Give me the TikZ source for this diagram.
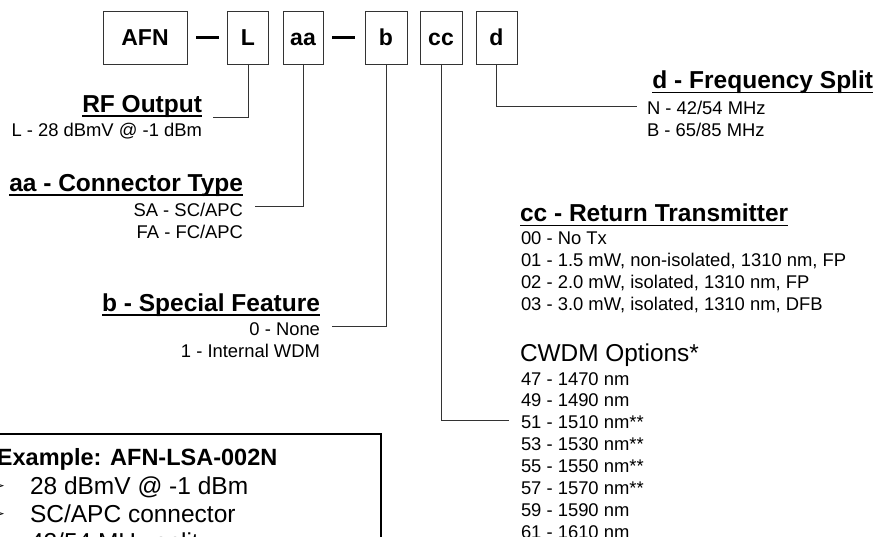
\documentclass[tikz,border=0pt]{standalone}
\usepackage{fontspec}
\setmainfont{Liberation Sans}
\newfontfamily\symfont{DejaVu Sans}
\begin{document}
\begin{tikzpicture}[x=1pt,y=-1pt,
  every node/.style={inner sep=0pt, outer sep=0pt},
  codebox/.style={draw=black!80, line width=0.9pt, minimum height=53pt, text height=16.5pt, text depth=0pt, font=\fontsize{23}{27}\selectfont\bfseries},
  dashtxt/.style={},
  conn/.style={draw=black!80, line width=0.9pt},
  head/.style={font=\fontsize{24.5}{28}\selectfont\bfseries},
  big/.style={font=\fontsize{24.4}{28}\selectfont},
  body/.style={font=\fontsize{18.4}{22}\selectfont},
  exbody/.style={font=\fontsize{24.5}{28}\selectfont},
  exhead/.style={font=\fontsize{23.5}{28}\selectfont\bfseries},
  bullet/.style={font=\symfont\fontsize{17}{20}\selectfont},
  uline/.style={line width=1.8pt},
]
\useasboundingbox (0,0) rectangle (878,537);
\clip (0,0) rectangle (878,537);

% code boxes
\node[codebox, minimum width=84pt] (afn) at (145,37.5) {AFN};
\node[dashtxt] (dash1) at (207.5,37.3) {\rule{23pt}{3pt}};
\node[codebox, minimum width=41pt] (lbox) at (248,37.5) {L};
\node[codebox, minimum width=40pt] (aabox) at (303,37.5) {aa};
\node[dashtxt] (dash2) at (343.5,37.3) {\rule{23pt}{3pt}};
\node[codebox, minimum width=42pt] (bbox) at (386,37.5) {b};
\node[codebox, minimum width=42pt] (ccbox) at (441,37.5) {cc};
\node[codebox, minimum width=41pt] (dbox) at (496.5,37.5) {d};

% RF Output
\node[head, anchor=base east] (rfh) at (202,112.5) {RF Output};
\draw[uline] ([yshift=-3.6pt]rfh.base west) -- ([yshift=-3.6pt]rfh.base east);
\node[body, anchor=base east] (rf1) at (202,136.5) {L - 28 dBmV @ -1 dBm};
\coordinate (rfend) at (213,117);
\draw[conn] (lbox.south) |- (rfend);

% aa - Connector Type
\node[head, anchor=base east] (aah) at (243,191.7) {aa - Connector Type};
\draw[uline] ([yshift=-3.6pt]aah.base west) -- ([yshift=-3.6pt]aah.base east);
\node[body, anchor=base east] (aa1) at (243,216.7) {SA - SC/APC};
\node[body, anchor=base east] (aa2) at (243,238.5) {FA - FC/APC};
\coordinate (aaend) at (255,206.7);
\draw[conn] (aabox.south) |- (aaend);

% b - Special Feature
\node[head, anchor=base east] (bh) at (320,311.7) {b - Special Feature};
\draw[uline] ([yshift=-3.6pt]bh.base west) -- ([yshift=-3.6pt]bh.base east);
\node[body, anchor=base east] (b1) at (320,335.5) {0 - None};
\node[body, anchor=base east] (b2) at (320,357.5) {1 - Internal WDM};
\coordinate (bend) at (332,326.7);
\draw[conn] (bbox.south) |- (bend);

% d - Frequency Split
\node[head, anchor=base east] (dh) at (873,89) {d - Frequency Split};
\draw[uline] ([yshift=-3.6pt]dh.base west) -- ([yshift=-3.6pt]dh.base east);
\node[body, anchor=base west] (d1) at (647,114.5) {N - 42/54 MHz};
\node[body, anchor=base west] (d2) at (647,136.7) {B - 65/85 MHz};
\coordinate (dend) at (637,106);
\draw[conn] (dbox.south) |- (dend);

% cc - Return Transmitter
\node[head, anchor=base west] (cch) at (520,222) {cc - Return Transmitter};
\draw[uline] ([yshift=-3.6pt]cch.base west) -- ([yshift=-3.6pt]cch.base east);
\node[body, anchor=base west] (cc1) at (521,245) {00 - No Tx};
\node[body, anchor=base west] (cc2) at (521,266.7) {01 - 1.5 mW, non-isolated, 1310 nm, FP};
\node[body, anchor=base west] (cc3) at (521,288.4) {02 - 2.0 mW, isolated, 1310 nm, FP};
\node[body, anchor=base west] (cc4) at (521,310.1) {03 - 3.0 mW, isolated, 1310 nm, DFB};

\node[big, anchor=base west] (cwdm) at (520,361.7) {CWDM Options*};
\node[body, anchor=base west] (w1) at (521,385) {47 - 1470 nm};
\node[body, anchor=base west] (w2) at (521,406.9) {49 - 1490 nm};
\node[body, anchor=base west] (w3) at (521,428.8) {51 - 1510 nm**};
\node[body, anchor=base west] (w4) at (521,450.7) {53 - 1530 nm**};
\node[body, anchor=base west] (w5) at (521,472.6) {55 - 1550 nm**};
\node[body, anchor=base west] (w6) at (521,494.5) {57 - 1570 nm**};
\node[body, anchor=base west] (w7) at (521,516.4) {59 - 1590 nm};
\node[body, anchor=base west] (w8) at (521,538.3) {61 - 1610 nm};
\coordinate (ccend) at (509,420);
\draw[conn] (ccbox.south) |- (ccend);

% Example box
\coordinate (exa) at (-20,434);
\coordinate (exb) at (381,620);
\draw[line width=1.6pt, black] (exa) rectangle (exb);
\node[exhead, anchor=base west] (exh) at (-3,465) {Example: AFN-LSA-002N};
\node[bullet, anchor=east] (bu1) at (5,487) {➢};
\node[exbody, anchor=base west] (ex1) at (30,494) {28 dBmV @ -1 dBm};
\node[bullet, anchor=east] (bu2) at (5,515) {➢};
\node[exbody, anchor=base west] (ex2) at (30,522) {SC/APC connector};
\node[bullet, anchor=east] (bu3) at (5,543) {➢};
\node[exbody, anchor=base west] (ex3) at (30,550.5) {42/54 MHz split};
\end{tikzpicture}
\end{document}
